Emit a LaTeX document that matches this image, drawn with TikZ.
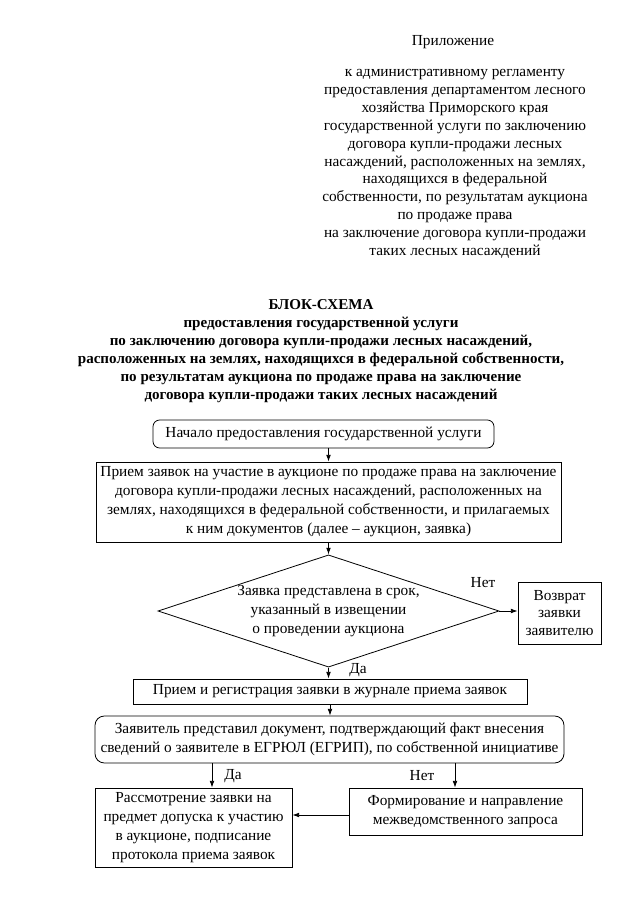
\documentclass[tikz,border=0pt]{standalone}
\usepackage{fontspec}
\setmainfont{Liberation Serif}
\usetikzlibrary{positioning, arrows.meta, shapes.geometric}

\tikzset{
    box/.style={draw, line width=0.6pt, align=center, inner sep=0pt, font=\fontsize{11.5}{14.25}\selectfont},
    rbox/.style={box, rounded corners=5pt},
    dec/.style={box, diamond, aspect=3},
    arr/.style={-{Latex[length=5pt,width=3.5pt]}, line width=0.6pt},
    lbl/.style={inner sep=1pt, font=\fontsize{11.5}{14}\selectfont},
    hdr/.style={align=center, inner sep=0pt, font=\fontsize{11.5}{13.4}\selectfont},
    ttl/.style={align=center, inner sep=0pt, font=\fontsize{11.3}{13.5}\selectfont\bfseries}
}

\begin{document}
\begin{tikzpicture}[x=0.75pt,y=0.75pt,yscale=-1,xscale=1]
        \useasboundingbox (0,0) rectangle (640,905);
        % header
        \node (app) at (453,42) [hdr] {Приложение};
        \node (reg) at (455,164) [hdr] {к административному регламенту\\
            предоставления департаментом лесного\\
            хозяйства Приморского края\\
            государственной услуги по заключению\\
            договора купли-продажи лесных\\
            насаждений, расположенных на землях,\\
            находящихся в федеральной\\
            собственности, по результатам аукциона\\
            по продаже права\\
            на заключение договора купли-продажи\\
            таких лесных насаждений};
        \node (ttl) at (321,351.5) [ttl] {БЛОК-СХЕМА\\
            предоставления государственной услуги\\
            по заключению договора купли-продажи лесных насаждений,\\
            расположенных на землях, находящихся в федеральной собственности,\\
            по результатам аукциона по продаже права на заключение\\
            договора купли-продажи таких лесных насаждений};
        % blocks
        \node (start) at (323.5,434) [rbox, minimum width=255.75pt, minimum height=21pt] {Начало предоставления государственной услуги};
        \node (prm) at (328.5,502) [box, minimum width=348.75pt, minimum height=60pt] {Прием заявок на участие в аукционе по продаже права на заключение\\
            договора купли-продажи лесных насаждений, расположенных\ на\\
            землях, находящихся в федеральной собственности, и прилагаемых\\
            к ним документов (далее -- аукцион, заявка)};
        \node (dec) at (328.5,611) [dec, minimum width=255.75pt, minimum height=84pt] {Заявка представлена в срок,\\
            указанный в извещении\\
            о проведении аукциона};
        \node (ret) at (559.5,613) [box, minimum width=62.25pt, minimum height=46.5pt, font=\fontsize{11.5}{13.2}\selectfont] {Возврат\\ заявки\\ заявителю};
        \node (rgs) at (330,691.5) [box, minimum width=295.5pt, minimum height=18.75pt] {Прием и регистрация заявки в журнале приема заявок};
        \node (egr) at (329.5,739.5) [rbox, rounded corners=7pt, minimum width=351.75pt, minimum height=35.25pt] {Заявитель представил документ, подтверждающий факт внесения\\
            сведений о заявителе в ЕГРЮЛ (ЕГРИП), по собственной инициативе};
        \node (rsm) at (193.5,827.5) [box, minimum width=147.75pt, minimum height=59.25pt] {Рассмотрение заявки на\\
            предмет допуска к участию\\
            в аукционе, подписание\\
            протокола приема заявок};
        \node (zpr) at (465.5,811.5) [box, minimum width=174.75pt, minimum height=35.25pt] {Формирование и направление\\
            межведомственного запроса};
        % connectors
        \coordinate (da) at (212,0);
        \coordinate (net) at (455,0);
        \coordinate (zq) at (0,815);
        \draw [arr] (start.south -| prm.north) -- (prm.north);
        \draw [arr] (prm.south) -- (dec.north);
        \draw [arr] (dec.east) -- (dec.east -| ret.west);
        \draw [arr] (dec.south) -- (dec.south |- rgs.north);
        \draw [arr] (rgs.south) -- (rgs.south |- egr.north);
        \draw [arr] (egr.south -| da) -- (rsm.north -| da);
        \draw [arr] (egr.south -| net) -- (zpr.north -| net);
        \draw [arr] (zpr.west |- zq) -- (rsm.east |- zq);
        % labels
        \node (l1) at (483,583) [lbl] {Нет};
        \node (l2) at (358,670) [lbl] {Да};
        \node (l3) at (233,776) [lbl] {Да};
        \node (l4) at (422,776) [lbl] {Нет};
\end{tikzpicture}
\end{document}
